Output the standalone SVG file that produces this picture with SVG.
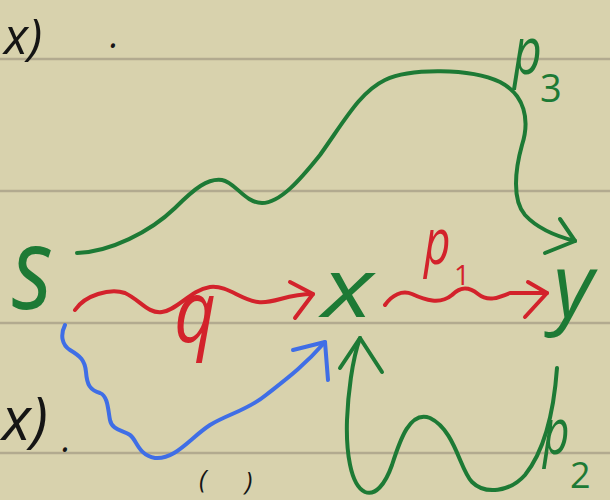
<svg xmlns="http://www.w3.org/2000/svg" width="610" height="500" viewBox="0 0 610 500">
<style>
.rule{stroke:#b2aa8f;stroke-width:2.5}
.g{stroke:#1d7a35;fill:none;stroke-width:4;stroke-linecap:round;stroke-linejoin:round}
.r{stroke:#d3222b;fill:none;stroke-width:4;stroke-linecap:round;stroke-linejoin:round}
.b{stroke:#3f6ee6;fill:none;stroke-width:4;stroke-linecap:round;stroke-linejoin:round}
.t{font-family:"Open Sans","Noto Sans","DejaVu Sans",sans-serif;font-style:italic;font-weight:400}
.tg{fill:#1d7a35}
.tr{fill:#d3222b}
.tk{fill:#151515}
.d{font-family:"Open Sans","Noto Sans","DejaVu Sans",sans-serif}
</style>
<rect width="610" height="500" fill="#d8d2ad"/>
<g id="paper">
<line class="rule" x1="0" y1="59" x2="610" y2="59"/>
<line class="rule" x1="0" y1="191" x2="610" y2="191"/>
<line class="rule" x1="0" y1="323" x2="610" y2="323"/>
<line class="rule" x1="0" y1="453" x2="610" y2="453"/>
</g>
<g id="margin-text">
<text class="t tk" x="4" y="54" font-size="50">x)</text>
<text class="t tk" x="110" y="48" font-size="36">.</text>
<text class="t tk" x="2" y="440" font-size="60">x)</text>
<text class="t tk" x="62" y="452" font-size="36">.</text>
<text class="t tk" x="199" y="488" font-size="26">(</text>
<text class="t tk" x="245" y="490" font-size="26">)</text>
</g>
<g id="connectors">
<g id="p3">
<path class="g" d="M77,253 C110,252 150,232 175,208 C195,188 208,178 222,180 C235,182 245,203 262,203 C280,203 300,180 320,155 C345,120 360,92 385,80 C410,68 470,68 500,82 C525,95 530,120 522,145 C515,170 512,200 525,215 C537,228 555,236 575,241"/>
<path class="g" d="M560,219 L575,241 L545,253"/>
<text class="t tg" transform="translate(513,74) scale(1,1.3)" font-size="50">p</text>
<text class="d tg" x="540" y="102" font-size="38">3</text>
</g>
<g id="q">
<path class="r" d="M75,310 C85,295 110,288 125,293 C140,300 148,314 162,312 C178,310 190,290 210,287 C228,285 240,300 258,302 C275,304 285,294 313,294"/>
<path class="r" d="M290,282 L313,294 L295,318"/>
<text class="t tr" transform="translate(174,342) scale(1.1,1.3)" font-size="66">q</text>
</g>
<g id="p1">
<path class="r" d="M385,305 C392,295 402,290 412,294 C425,300 440,305 452,295 C460,287 468,286 478,294 C488,302 498,298 510,293 L547,293"/>
<path class="r" d="M528,282 L547,293 L525,317"/>
<text class="t tr" transform="translate(424,264) scale(1,1.4)" font-size="46">p</text>
<text class="d tr" x="454" y="285" font-size="28">1</text>
</g>
<g id="blue">
<path class="b" d="M65,325 C60,335 62,345 70,350 C80,356 85,360 86,372 C87,385 90,390 100,393 C108,396 108,410 110,420 C112,430 122,430 130,435 C137,440 138,455 155,458 C175,460 190,438 210,425 C228,414 248,410 266,395 C285,380 302,368 325,342"/>
<path class="b" d="M293,350 L325,342 L328,380"/>
</g>
<g id="p2">
<path class="g" d="M557,368 C554,410 545,450 525,475 C510,492 485,495 472,482 C460,470 455,430 430,418 C410,410 400,440 392,465 C385,485 375,496 365,492 C350,485 346,450 347,420 C348,395 352,360 360,338"/>
<path class="g" d="M340,368 L360,338 L382,372"/>
<text class="t tg" transform="translate(543,454) scale(1,1.4)" font-size="46">p</text>
<text class="d tg" x="570" y="488" font-size="36">2</text>
</g>
</g>
<g id="s">
<text class="t tg" transform="translate(12,309) scale(1.1,1.35)" font-size="86">s</text>
</g>
<g id="x">
<text class="t tg" transform="translate(322,317) scale(1.3,1)" font-size="82">x</text>
</g>
<g id="y">
<text class="t tg" x="553" y="317" font-size="88">y</text>
</g>
</svg>
